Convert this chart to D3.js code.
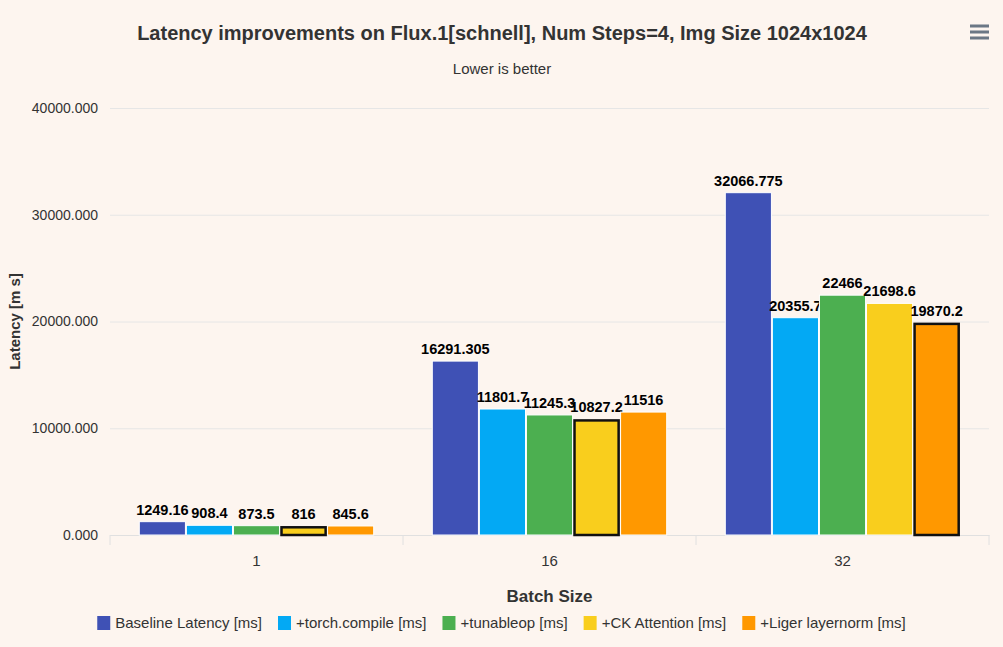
<!DOCTYPE html>
<html>
<head>
<meta charset="utf-8">
<script src="https://cdn.jsdelivr.net/npm/d3@7"></script>
<style>
  html, body { margin: 0; padding: 0; background: #fdf5ef; }
  svg { display: block; font-family: "Liberation Sans", Arial, sans-serif; }
</style>
</head>
<body>
<svg id="board" width="1003" height="647"></svg>
<script>
// batch sizes on the x axis
let batchSizes = ['1', '16', '32']

// one value per batch size for each series
let seriesNames = ['Baseline Latency [ms]', '+torch.compile [ms]', '+tunableop [ms]', '+CK Attention [ms]', '+Liger layernorm [ms]']
let baselineLatency = [1249.16, 16291.305, 32066.775]
let torchCompile = [908.4, 11801.7, 20355.7]
let tunableop = [873.5, 11245.3, 22466]
let ckAttention = [816, 10827.2, 21698.6]
let ligerLayernorm = [845.6, 11516, 19870.2]
let seriesColors = ['#3f51b5', '#03a9f4', '#4caf50', '#f9ce1d', '#ff9800']

let yTicks = [0, 10000, 20000, 30000, 40000]

let seriesValues = [baselineLatency, torchCompile, tunableop, ckAttention, ligerLayernorm]

let board = d3.select('#board')

let plotLeft = 110, plotRight = 989, plotTop = 108, plotBottom = 535

let xScale = d3.scaleBand().domain(batchSizes).range([plotLeft, plotRight])
let bw = xScale.bandwidth()
let x1Scale = d3.scaleBand().domain(seriesNames).range([bw * 0.1, bw * 0.9]).paddingInner(0.02)
let yScale = d3.scaleLinear().domain([0, 40000]).range([plotBottom, plotTop])

// title + subtitle
board.append('text')
    .attr('x', 502).attr('y', 40)
    .attr('text-anchor', 'middle')
    .attr('font-size', 20).attr('font-weight', 'bold').attr('fill', '#333333')
    .text('Latency improvements on Flux.1[schnell], Num Steps=4, Img Size 1024x1024')
board.append('text')
    .attr('x', 502).attr('y', 74)
    .attr('text-anchor', 'middle')
    .attr('font-size', 15).attr('fill', '#333333')
    .text('Lower is better')

// menu icon
board.selectAll('.menu')
    .data([26, 32, 38])
    .enter()
    .append('rect')
    .attr('x', 970).attr('y', (d) => d - 1.5)
    .attr('width', 19).attr('height', 3)
    .attr('fill', '#6b7785')

// grid lines + y labels
let yAxis = d3.axisLeft(yScale)
    .tickValues(yTicks)
    .tickSize(-(plotRight - plotLeft))
    .tickPadding(12)
    .tickFormat(d3.format('.3f'))
let yG = board.append('g')
    .attr('transform', 'translate(' + plotLeft + ',0)')
    .call(yAxis)
yG.select('.domain').remove()
yG.selectAll('line').attr('stroke', '#e6e6e6')
yG.selectAll('text').attr('font-size', 14).attr('fill', '#333333').attr('font-family', null)

board.append('text')
    .attr('transform', 'translate(20,' + ((plotTop + plotBottom) / 2) + ') rotate(-90)')
    .attr('text-anchor', 'middle')
    .attr('font-size', 15).attr('font-weight', 'bold').attr('fill', '#333333')
    .text('Latency [m s]')

// x axis
let xAxis = d3.axisBottom(xScale).tickSize(0).tickPadding(20)
let xG = board.append('g')
    .attr('transform', 'translate(0,' + plotBottom + ')')
    .call(xAxis)
xG.select('.domain').attr('stroke', '#e0e0e0')
xG.selectAll('text').attr('font-size', 15).attr('fill', '#333333').attr('font-family', null)
let edges = batchSizes.map((b) => xScale(b)).concat([plotRight])
xG.selectAll('.edge')
    .data(edges)
    .enter()
    .append('line')
    .attr('x1', (d) => d).attr('x2', (d) => d)
    .attr('y1', 0).attr('y2', 10)
    .attr('stroke', '#e0e0e0')

board.append('text')
    .attr('x', (plotLeft + plotRight) / 2).attr('y', 602)
    .attr('text-anchor', 'middle')
    .attr('font-size', 17).attr('font-weight', 'bold').attr('fill', '#333333')
    .text('Batch Size')

// bars
let rows = []
batchSizes.forEach((b, i) => {
    let vals = seriesValues.map((s) => s[i])
    let best = d3.min(vals)
    seriesNames.forEach((name, j) => {
        rows.push({ batch: b, name: name, value: vals[j], color: seriesColors[j], best: vals[j] === best })
    })
})

let block = board.selectAll('.bar')
    .data(rows)
    .enter()
    .append('g')
    .attr('transform', (d) => 'translate(' + (xScale(d.batch) + x1Scale(d.name)) + ',0)')

block.append('rect')
    .attr('x', (d) => d.best ? 1 : 0)
    .attr('y', (d) => yScale(d.value) + (d.best ? 1 : 0))
    .attr('width', (d) => x1Scale.bandwidth() - (d.best ? 2 : 0))
    .attr('height', (d) => plotBottom - yScale(d.value) - (d.best ? 1 : 0))
    .attr('fill', (d) => d.color)
    .attr('stroke', (d) => d.best ? '#111111' : '#ffffff')
    .attr('stroke-width', (d) => d.best ? 2.5 : 1)

block.append('text')
    .attr('x', x1Scale.bandwidth() / 2)
    .attr('y', (d) => yScale(d.value) - 7)
    .attr('text-anchor', 'middle')
    .attr('font-size', 14.5).attr('font-weight', 'bold').attr('fill', '#000000')
    .text((d) => String(d.value))

// legend
let legend = board.append('g')
let lx = 0
seriesNames.forEach((name, j) => {
    let item = legend.append('g').attr('transform', 'translate(' + lx + ',0)')
    item.append('rect')
        .attr('x', 0).attr('y', -12)
        .attr('width', 13).attr('height', 14)
        .attr('fill', seriesColors[j])
    let t = item.append('text')
        .attr('x', 18).attr('y', 0)
        .attr('font-size', 15).attr('fill', '#333333')
        .text(name)
    lx += 18 + t.node().getComputedTextLength() + 16
})
lx -= 16
legend.attr('transform', 'translate(' + ((1003 - lx) / 2) + ',628)')
</script>
</body>
</html>
